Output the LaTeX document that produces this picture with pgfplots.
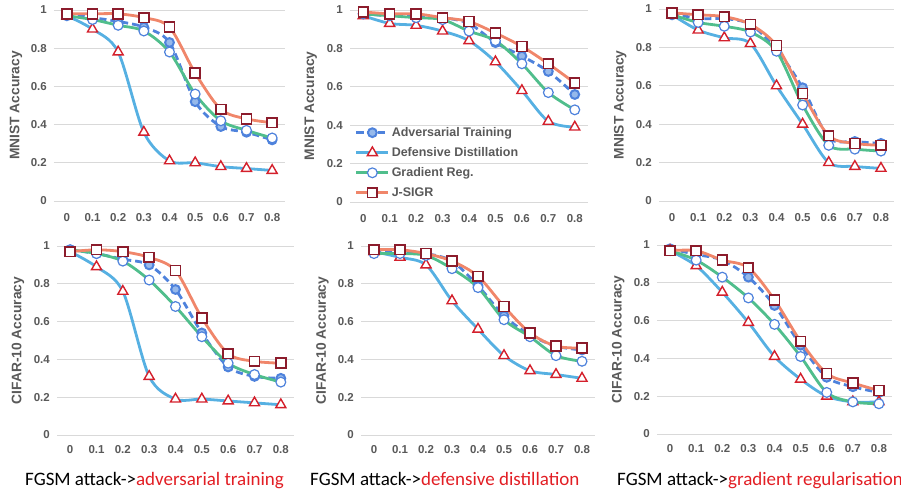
\documentclass[border=0pt]{standalone}
\usepackage{fontspec}
\setmainfont{Liberation Sans}
\newfontfamily\calfont{Carlito}
\usepackage{pgfplots}
\usepackage{pgfplotstable}
\pgfplotsset{compat=1.18}

\definecolor{atblue}{RGB}{78,130,220}
\definecolor{atfill}{RGB}{150,185,235}
\definecolor{ddblue}{RGB}{86,176,226}
\definecolor{ddred}{RGB}{212,32,44}
\definecolor{grgreen}{RGB}{80,190,140}
\definecolor{jsorange}{RGB}{240,134,106}
\definecolor{jsred}{RGB}{140,28,44}
\definecolor{gridgray}{RGB}{217,217,217}
\definecolor{textgray}{RGB}{89,89,89}
\definecolor{capred}{RGB}{226,30,36}

% x index: 0..8 stands for epsilon 0, 0.1, ..., 0.8
\pgfplotstableread{
x AT DD GR JS
0 0.98 0.97 0.97 0.98
1 0.96 0.90 0.95 0.98
2 0.94 0.78 0.92 0.98
3 0.91 0.36 0.89 0.96
4 0.83 0.21 0.78 0.91
5 0.52 0.20 0.56 0.67
6 0.39 0.18 0.42 0.48
7 0.36 0.17 0.37 0.43
8 0.32 0.16 0.33 0.41
}\tabA
\pgfplotstableread{
x AT DD GR JS
0 0.98 0.97 0.98 0.99
1 0.97 0.93 0.97 0.98
2 0.97 0.92 0.96 0.98
3 0.96 0.89 0.95 0.96
4 0.93 0.84 0.89 0.94
5 0.83 0.73 0.84 0.88
6 0.76 0.58 0.72 0.81
7 0.68 0.42 0.57 0.72
8 0.56 0.39 0.48 0.62
}\tabB
\pgfplotstableread{
x AT DD GR JS
0 0.98 0.97 0.97 0.98
1 0.95 0.89 0.93 0.97
2 0.95 0.85 0.91 0.96
3 0.92 0.82 0.88 0.92
4 0.79 0.60 0.78 0.81
5 0.59 0.40 0.50 0.56
6 0.33 0.20 0.29 0.34
7 0.31 0.18 0.27 0.30
8 0.30 0.17 0.26 0.29
}\tabC
\pgfplotstableread{
x AT DD GR JS
0 0.98 0.97 0.98 0.97
1 0.96 0.89 0.96 0.98
2 0.93 0.76 0.92 0.97
3 0.90 0.31 0.82 0.94
4 0.77 0.19 0.68 0.87
5 0.54 0.19 0.52 0.62
6 0.36 0.18 0.38 0.43
7 0.31 0.17 0.32 0.39
8 0.30 0.16 0.28 0.38
}\tabD
\pgfplotstableread{
x AT DD GR JS
0 0.97 0.97 0.96 0.98
1 0.97 0.94 0.96 0.98
2 0.96 0.90 0.95 0.96
3 0.92 0.71 0.88 0.92
4 0.79 0.56 0.78 0.84
5 0.63 0.42 0.61 0.68
6 0.53 0.34 0.52 0.54
7 0.47 0.32 0.42 0.47
8 0.45 0.30 0.39 0.46
}\tabE
\pgfplotstableread{
x AT DD GR JS
0 0.98 0.97 0.97 0.97
1 0.95 0.89 0.92 0.97
2 0.92 0.75 0.83 0.92
3 0.83 0.59 0.72 0.88
4 0.68 0.41 0.58 0.71
5 0.47 0.29 0.41 0.49
6 0.30 0.20 0.22 0.32
7 0.25 0.17 0.17 0.27
8 0.22 0.17 0.16 0.23
}\tabF

\pgfplotsset{
  panel/.style={
    scale only axis, clip=false,
    xmin=-0.5, xmax=8.5, ymin=0, ymax=1,
    axis line style={draw=none}, tick style={draw=none},
    ymajorgrids=true, grid style={draw=gridgray, line width=0.9pt},
    xtick={0,1,2,3,4,5,6,7,8},
    xticklabels={0,0.1,0.2,0.3,0.4,0.5,0.6,0.7,0.8},
    ytick={0,0.2,0.4,0.6,0.8,1},
    yticklabels={0,0.2,0.4,0.6,0.8,1},
    tick label style={font=\fontsize{11.5}{13}\selectfont\bfseries, text=textgray, inner sep=0pt},
    yticklabel style={anchor=east, xshift=-7pt},
    every axis y label/.style={at={(axis description cs:-0.165,0.5)}, rotate=90, anchor=center,
      font=\fontsize{13.8}{16}\selectfont\bfseries, text=textgray},
  },
  ATs/.style={color=atblue, line width=2.8pt, dash pattern=on 7pt off 4pt, smooth, tension=0.5,
    mark=*, mark size=4.4pt, mark options={solid, draw=atblue, fill=atfill, line width=2pt}},
  DDs/.style={color=ddblue, line width=2.8pt, smooth, tension=0.5,
    mark=triangle*, mark size=5.8pt, mark options={solid, draw=ddred, fill=white, line width=1.4pt}},
  GRs/.style={color=grgreen, line width=2.8pt, smooth, tension=0.5,
    mark=*, mark size=4.9pt, mark options={solid, draw=atblue, fill=white, line width=1.2pt}},
  JSs/.style={color=jsorange, line width=2.8pt, smooth, tension=0.5,
    mark=square*, mark size=4.9pt, mark options={solid, draw=jsred, fill=white, line width=1.6pt}},
}

\newcommand{\fourplots}[1]{%
  \addplot[ATs] table[x=x,y=AT] {#1};
  \addplot[DDs] table[x=x,y=DD] {#1};
  \addplot[GRs] table[x=x,y=GR] {#1};
  \addplot[JSs] table[x=x,y=JS] {#1};
}

\begin{document}
\begin{tikzpicture}[x=1pt,y=1pt]
\useasboundingbox (0,0) rectangle (901,-493);

% top row (MNIST)
\begin{axis}[panel, at={(54pt,-201pt)}, anchor=south west, width=231pt, height=191pt,
  xticklabel style={yshift=-12.5pt}, ylabel={MNIST Accuracy}]
\fourplots{\tabA}
\end{axis}

\begin{axis}[panel, at={(350pt,-202pt)}, anchor=south west, width=238pt, height=192pt,
  xticklabel style={yshift=-12.5pt}, ylabel={MNIST Accuracy},
  legend style={draw=none, fill=none, at={(rel axis cs:0.02,0.40)}, anchor=north west,
    inner sep=0pt, row sep=5.5pt, font=\fontsize{12.5}{14}\selectfont\bfseries, text=textgray,
    /tikz/every even column/.append style={column sep=3pt}},
  legend cell align=left,
  legend image code/.code={\draw[mark repeat=2,mark phase=2,#1] plot coordinates {(0pt,0pt) (16pt,0pt) (32pt,0pt)};}]
\fourplots{\tabB}
\legend{Adversarial Training, Defensive Distillation, Gradient Reg., J-SIGR}
\end{axis}

\begin{axis}[panel, at={(659pt,-201pt)}, anchor=south west, width=235pt, height=192pt,
  xticklabel style={yshift=-12.5pt}, ylabel={MNIST Accuracy}]
\fourplots{\tabC}
\end{axis}

% bottom row (CIFAR-10)
\begin{axis}[panel, at={(57pt,-435pt)}, anchor=south west, width=237pt, height=189pt,
  xticklabel style={yshift=-10.5pt}, ylabel={CIFAR-10 Accuracy}]
\fourplots{\tabD}
\end{axis}

\begin{axis}[panel, at={(361pt,-435pt)}, anchor=south west, width=234pt, height=189pt,
  xticklabel style={yshift=-10.5pt}, ylabel={CIFAR-10 Accuracy}]
\fourplots{\tabE}
\end{axis}

\begin{axis}[panel, at={(657pt,-434pt)}, anchor=south west, width=235pt, height=189pt,
  xticklabel style={yshift=-10.5pt}, ylabel={CIFAR-10 Accuracy}]
\fourplots{\tabF}
\end{axis}

% captions
\node[anchor=base west, inner sep=0pt, font=\calfont\fontsize{19}{22}\selectfont] at (25,-485)
  {FGSM attack->\textcolor{capred}{adversarial training}};
\node[anchor=base west, inner sep=0pt, font=\calfont\fontsize{19}{22}\selectfont] at (310,-485)
  {FGSM attack->\textcolor{capred}{defensive distillation}};
\node[anchor=base west, inner sep=0pt, font=\calfont\fontsize{19}{22}\selectfont] at (617,-485)
  {FGSM attack->\textcolor{capred}{gradient regularisation}};
\end{tikzpicture}
\end{document}
